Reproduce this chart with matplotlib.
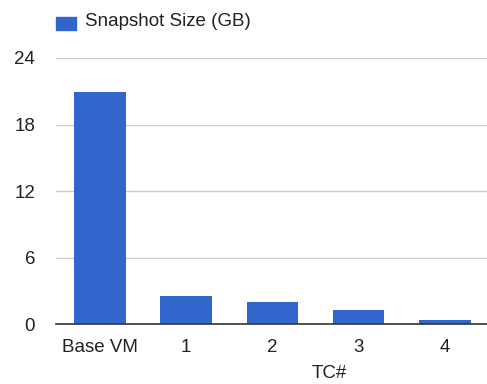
import matplotlib.pyplot as plt
from matplotlib.patches import Rectangle

categories = ['Base VM', '1', '2', '3', '4']
snapshot_gb = [20.9, 2.55, 1.95, 1.23, 0.39]
y_ticks = [0, 6, 12, 18, 24]

plt.rcParams['font.family'] = ['Liberation Sans', 'DejaVu Sans']
fs = 13.5
txt = '#222222'

fig = plt.figure(figsize=(4.87, 3.84), dpi=100)
ax = fig.add_axes([0.115, 0.156, 0.885, 0.693])

x = range(len(categories))
ax.bar(x, snapshot_gb, width=0.6, color='#3366cc', zorder=3)

ax.set_xlim(-0.51, 4.49)
ax.set_ylim(0, 24)
ax.set_yticks(y_ticks)
ax.set_yticklabels([str(t) for t in y_ticks])
ax.set_xticks(list(x))
ax.set_xticklabels(categories)
ax.tick_params(axis='both', length=0, labelsize=fs, colors=txt)
ax.tick_params(axis='y', pad=15)
ax.tick_params(axis='x', pad=11)

ax.grid(axis='y', color='#cccccc', linewidth=1, zorder=0)
for s in ['top', 'right', 'left']:
    ax.spines[s].set_visible(False)
ax.spines['bottom'].set_color('#333333')
ax.spines['bottom'].set_linewidth(1.2)
ax.spines['bottom'].set_zorder(4)

# legend entry drawn above the plot
fig.patches.append(Rectangle((56 / 487, 1 - 30 / 384), 20 / 487, 13 / 384,
                             transform=fig.transFigure, color='#3366cc'))
fig.text(85 / 487, 1 - 22 / 384, 'Snapshot Size (GB)', fontsize=fs,
         color=txt, va='center', ha='left')

fig.text(329 / 487, 1 - 374 / 384, 'TC#', fontsize=fs, color=txt,
         va='center', ha='center')

fig.savefig('out.png', dpi=100)
